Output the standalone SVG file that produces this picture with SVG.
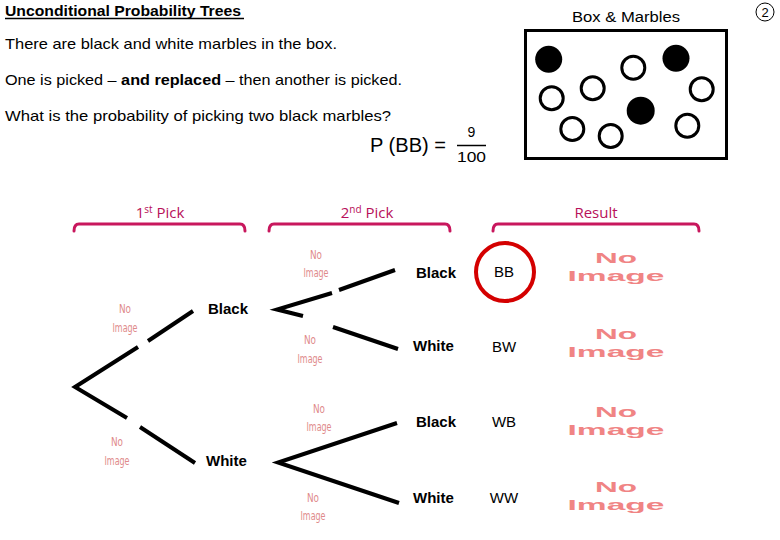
<svg xmlns="http://www.w3.org/2000/svg" width="780" height="540" viewBox="0 0 780 540">
<style>
.body{font-family:"Liberation Sans",Arial,sans-serif;font-size:15px;fill:#000}
.hdr{font-family:"Open Sans","Liberation Sans",sans-serif;font-size:15px;fill:#b8105a}
.lbl{font-family:"Liberation Sans",Arial,sans-serif;font-size:15px;font-weight:bold;fill:#000}
.res{font-family:"Liberation Sans",Arial,sans-serif;font-size:15px;fill:#000;text-anchor:middle}
.ni{font-family:"DejaVu Sans Condensed","Liberation Sans",sans-serif;font-size:13px;fill:#e08a8a;text-anchor:middle}
.nib{font-family:"Liberation Sans",Arial,sans-serif;font-size:15px;font-weight:bold;fill:#f08484;text-anchor:middle}
.br{fill:none;stroke:#c8175d;stroke-width:3;stroke-linecap:round;stroke-linejoin:round}
.tr{fill:none;stroke:#000;stroke-width:4;stroke-linecap:butt;stroke-linejoin:miter}
.wm{fill:#fff;stroke:#000;stroke-width:3}
.bm{fill:#000}
</style>
<rect width="780" height="540" fill="#fff"/>

<g id="title">
<text x="5" y="16" font-family="Liberation Sans,Arial,sans-serif" font-size="14" font-weight="bold" textLength="236" lengthAdjust="spacingAndGlyphs">Unconditional Probability Trees</text>
<line x1="5" y1="18.5" x2="244" y2="18.5" stroke="#000" stroke-width="1.5"/>
</g>
<g id="page-number">
<circle cx="765" cy="12" r="9" fill="none" stroke="#000" stroke-width="1"/>
<text x="765" y="17" font-family="Liberation Sans,Arial,sans-serif" font-size="13" text-anchor="middle">2</text>
</g>

<g id="question">
<text class="body" x="5" y="49" textLength="332" lengthAdjust="spacingAndGlyphs">There are black and white marbles in the box.</text>
<text class="body" x="5" y="85" textLength="397" lengthAdjust="spacingAndGlyphs">One is picked – <tspan font-weight="bold">and replaced</tspan> – then another is picked.</text>
<text class="body" x="5" y="121" textLength="386" lengthAdjust="spacingAndGlyphs">What is the probability of picking two black marbles?</text>
</g>

<g id="formula">
<text x="370" y="152" font-family="Liberation Sans,Arial,sans-serif" font-size="20" textLength="76" lengthAdjust="spacingAndGlyphs">P (BB) =</text>
<text x="471.5" y="137" font-family="Liberation Sans,Arial,sans-serif" font-size="14" text-anchor="middle">9</text>
<line x1="457" y1="145.5" x2="486" y2="145.5" stroke="#000" stroke-width="1.5"/>
<text x="471.5" y="162" font-family="Liberation Sans,Arial,sans-serif" font-size="14" text-anchor="middle" textLength="29" lengthAdjust="spacingAndGlyphs">100</text>
</g>

<g id="box">
<text x="626" y="22" font-family="Liberation Sans,Arial,sans-serif" font-size="14" text-anchor="middle" textLength="108" lengthAdjust="spacingAndGlyphs">Box &amp; Marbles</text>
<rect x="525.5" y="30.5" width="201" height="128" fill="none" stroke="#000" stroke-width="3"/>
<circle class="bm" cx="548.7" cy="59.3" r="13.5"/>
<circle class="bm" cx="676" cy="58.3" r="13.5"/>
<circle class="bm" cx="640.7" cy="110.7" r="14"/>
<circle class="wm" cx="633.3" cy="67.7" r="11.5"/>
<circle class="wm" cx="592.7" cy="88.3" r="11.5"/>
<circle class="wm" cx="551.7" cy="98.3" r="11.5"/>
<circle class="wm" cx="701.7" cy="89.3" r="11.5"/>
<circle class="wm" cx="572.3" cy="129" r="11.5"/>
<circle class="wm" cx="610.7" cy="136" r="11.5"/>
<circle class="wm" cx="687.3" cy="125.7" r="11.5"/>
</g>

<g id="headers">
<text class="hdr" x="160" y="218" text-anchor="middle">1<tspan font-size="10" dy="-5">st</tspan><tspan dy="5"> Pick</tspan></text>
<path class="br" d="M74,231 Q74,224 79,224 L240,224 Q245,224 245,231"/>
<text class="hdr" x="367" y="218" text-anchor="middle">2<tspan font-size="10" dy="-5">nd</tspan><tspan dy="5"> Pick</tspan></text>
<path class="br" d="M269,231 Q269,224 274,224 L445,224 Q450,224 450,231"/>
<text class="hdr" x="596" y="218" text-anchor="middle">Result</text>
<path class="br" d="M493,231 Q493,224 498,224 L694,224 Q699,224 699,231"/>
</g>

<g id="connectors">
<polyline class="tr" points="138,347 75,387 127,418"/>
<line class="tr" x1="148" y1="341" x2="193" y2="311"/>
<line class="tr" x1="140" y1="427" x2="195" y2="463"/>
<polyline class="tr" points="332,293 277,309.5 303,316"/>
<line class="tr" x1="339" y1="290" x2="395" y2="270"/>
<line class="tr" x1="333" y1="327" x2="398" y2="349"/>
<polyline class="tr" points="397,423 278,462.5 399,503"/>
</g>

<g id="node-black1"><text class="lbl" x="208" y="314">Black</text></g>
<g id="node-white1"><text class="lbl" x="206" y="466">White</text></g>
<g id="node-bb-black"><text class="lbl" x="416" y="278">Black</text></g>
<g id="node-bw-white"><text class="lbl" x="413" y="351">White</text></g>
<g id="node-wb-black"><text class="lbl" x="416" y="427">Black</text></g>
<g id="node-ww-white"><text class="lbl" x="413" y="503">White</text></g>

<g id="result-bb">
<circle cx="505" cy="272" r="29" fill="none" stroke="#d40000" stroke-width="4"/>
<text class="res" x="504" y="277">BB</text>
</g>
<g id="result-bw"><text class="res" x="504" y="352">BW</text></g>
<g id="result-wb"><text class="res" x="504" y="427">WB</text></g>
<g id="result-ww"><text class="res" x="504" y="503">WW</text></g>

<g id="placeholders">
<text class="ni" x="316" y="259" textLength="12" lengthAdjust="spacingAndGlyphs">No</text>
<text class="ni" x="316" y="277" textLength="25" lengthAdjust="spacingAndGlyphs">Image</text>
<text class="ni" x="310" y="344" textLength="12" lengthAdjust="spacingAndGlyphs">No</text>
<text class="ni" x="310" y="363" textLength="25" lengthAdjust="spacingAndGlyphs">Image</text>
<text class="ni" x="125" y="313" textLength="12" lengthAdjust="spacingAndGlyphs">No</text>
<text class="ni" x="125" y="332" textLength="25" lengthAdjust="spacingAndGlyphs">Image</text>
<text class="ni" x="319" y="413" textLength="12" lengthAdjust="spacingAndGlyphs">No</text>
<text class="ni" x="319" y="431" textLength="25" lengthAdjust="spacingAndGlyphs">Image</text>
<text class="ni" x="117" y="446" textLength="12" lengthAdjust="spacingAndGlyphs">No</text>
<text class="ni" x="117" y="465" textLength="25" lengthAdjust="spacingAndGlyphs">Image</text>
<text class="ni" x="313" y="502" textLength="12" lengthAdjust="spacingAndGlyphs">No</text>
<text class="ni" x="313" y="520" textLength="25" lengthAdjust="spacingAndGlyphs">Image</text>

<text class="nib" x="616" y="263" textLength="42" lengthAdjust="spacingAndGlyphs">No</text>
<text class="nib" x="616" y="281" textLength="97" lengthAdjust="spacingAndGlyphs">Image</text>
<text class="nib" x="616" y="339" textLength="42" lengthAdjust="spacingAndGlyphs">No</text>
<text class="nib" x="616" y="357" textLength="97" lengthAdjust="spacingAndGlyphs">Image</text>
<text class="nib" x="616" y="417" textLength="42" lengthAdjust="spacingAndGlyphs">No</text>
<text class="nib" x="616" y="435" textLength="97" lengthAdjust="spacingAndGlyphs">Image</text>
<text class="nib" x="616" y="492" textLength="42" lengthAdjust="spacingAndGlyphs">No</text>
<text class="nib" x="616" y="510" textLength="97" lengthAdjust="spacingAndGlyphs">Image</text>
</g>
</svg>
